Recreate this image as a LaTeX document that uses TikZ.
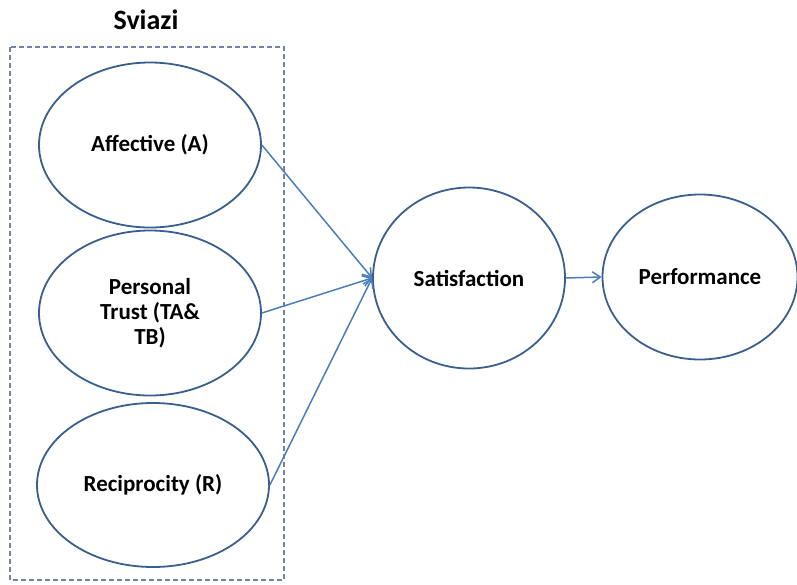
\documentclass[tikz,border=0pt]{standalone}
\usepackage{fontspec}
\setmainfont{Carlito}
\usetikzlibrary{shapes.geometric,arrows.meta}
\definecolor{ellcol}{HTML}{3A5F8F}
\definecolor{arrcol}{HTML}{4A7EBB}
\definecolor{boxcol}{HTML}{7484A0}
\tikzset{
  ell/.style={ellipse,draw=ellcol,line width=1.8pt,inner sep=0pt,align=center,
    font=\fontsize{23}{25}\selectfont\bfseries},
  conn/.style={draw=arrcol,line width=1.5pt,-{Straight Barb[length=8pt,width=11pt]}},
}
\begin{document}
\begin{tikzpicture}[x=1pt,y=-1pt]
\useasboundingbox (0,0) rectangle (797,584);
\node[font=\fontsize{28}{32}\selectfont\bfseries] (title) at (146,20) {Sviazi};
\draw[boxcol,line width=1.4pt,dash pattern=on 5pt off 3pt] (10,47) rectangle (284,580);
\node[ell,minimum width=222pt,minimum height=165pt] (A) at (150,145) {Affective (A)};
\node[ell,minimum width=222pt,minimum height=165pt] (T) at (150,313) {Personal\\Trust (TA\&\\TB)};
\node[ell,minimum width=232pt,minimum height=164pt] (R) at (153,485) {Reciprocity (R)};
\node[ell,minimum width=192pt,minimum height=181pt] (S) at (469,278) {Satisfaction};
\node[ell,minimum width=195pt,minimum height=165pt] (P) at (700,277) {Performance};
\draw[conn] (A.east) -- (S.west);
\draw[conn] (T.east) -- (S.west);
\draw[conn] (R.east) -- (S.west);
\draw[conn] (S.east) -- (P.west);
\end{tikzpicture}
\end{document}
